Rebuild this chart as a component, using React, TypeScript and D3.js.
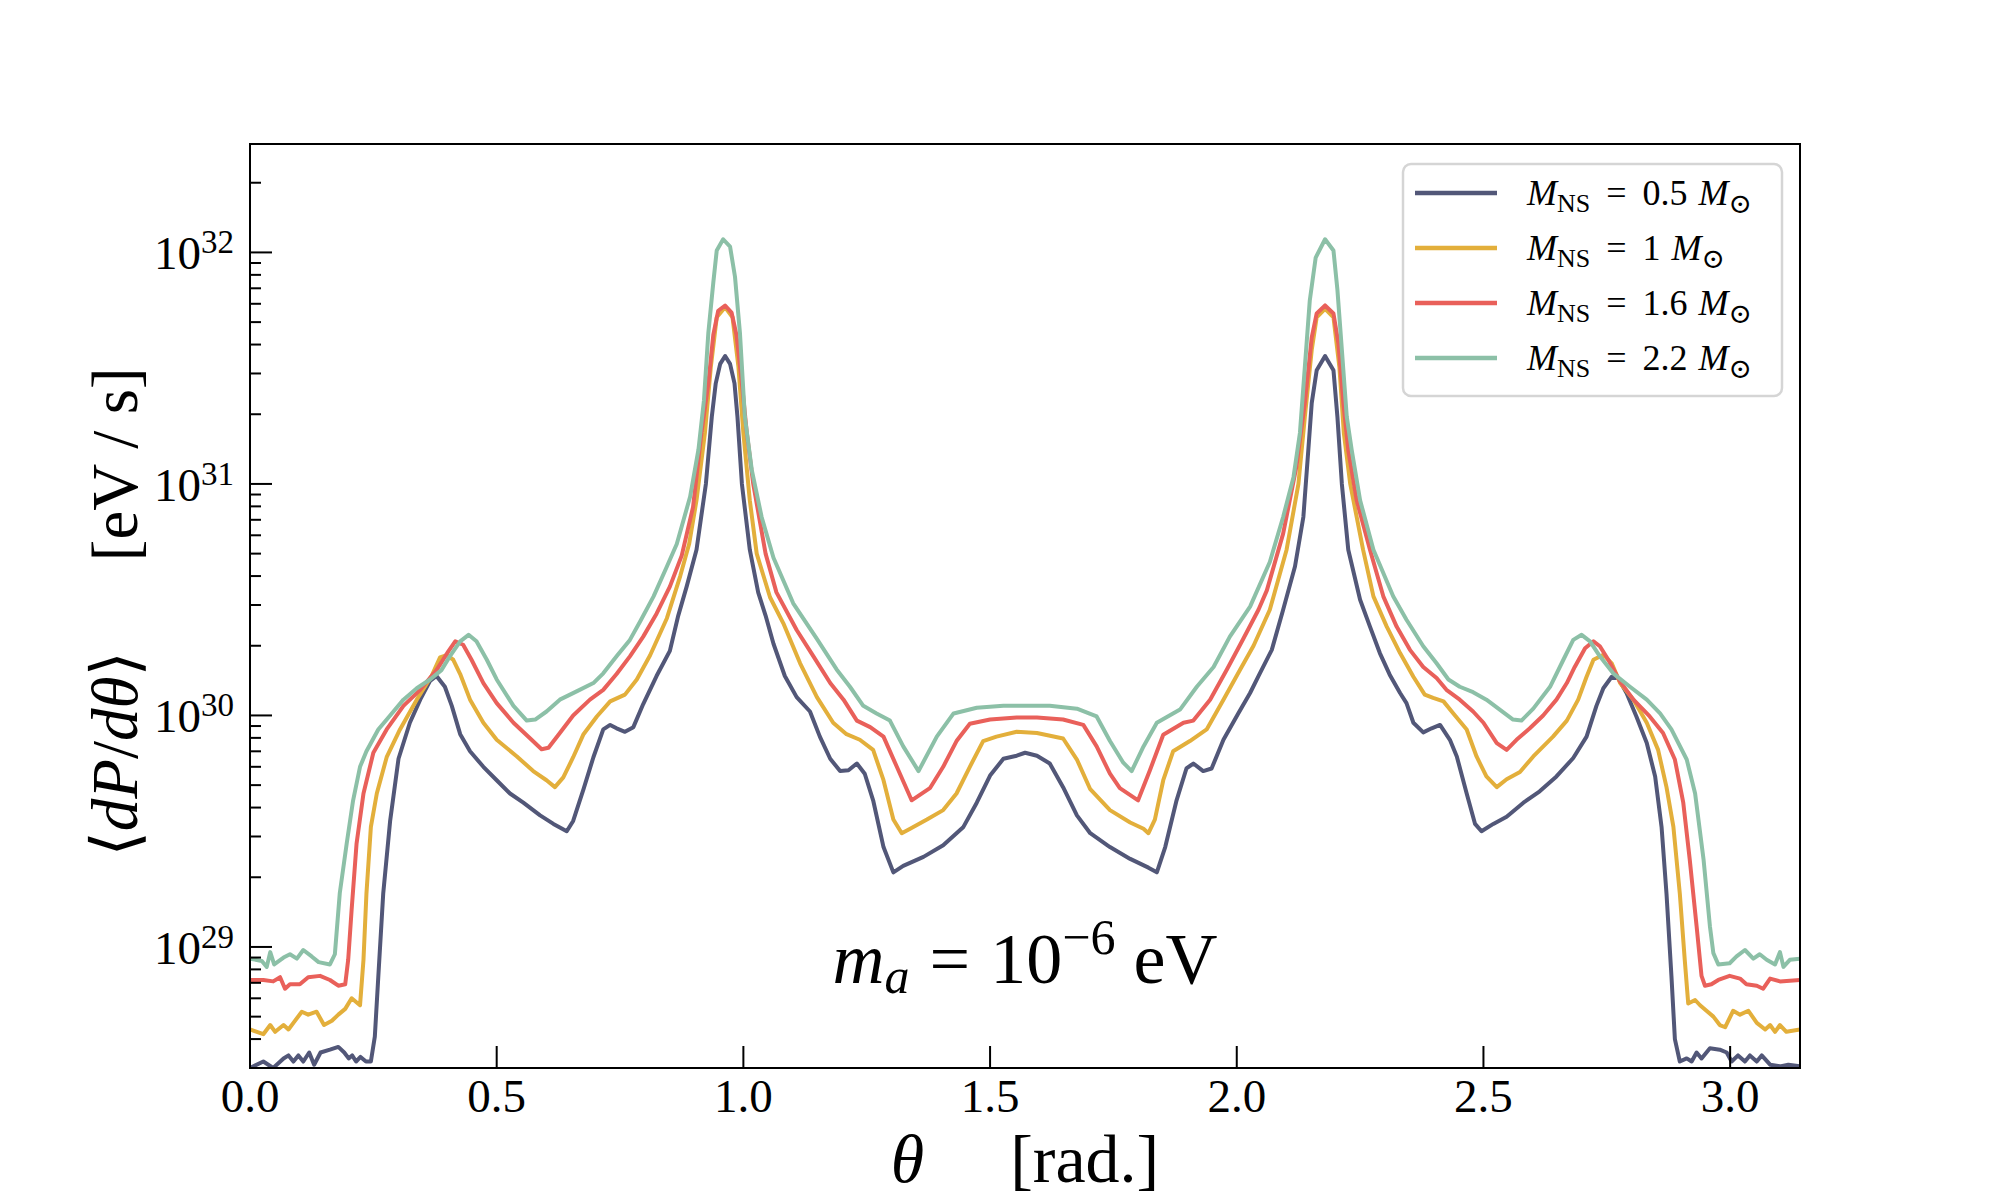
import * as d3 from "d3";
import React, { useEffect, useRef } from "react";

type Pt = [number, number]; // [theta in rad, <dP/dtheta> in eV/s]

const massLabels = ["0.5", "1", "1.6", "2.2"];
const lineColors = ["#525778", "#e3af3b", "#e9605a", "#8cc0a7"];

const powerM05: Pt[] = [
  [0, 3.0e28], [0.027, 3.2e28], [0.047, 3.0e28], [0.068, 3.3e28], [0.078, 3.4e28], [0.088, 3.2e28],
  [0.098, 3.4e28], [0.108, 3.2e28], [0.12, 3.5e28], [0.13, 3.1e28], [0.143, 3.5e28], [0.162, 3.6e28],
  [0.179, 3.7e28], [0.191, 3.5e28], [0.2, 3.3e28], [0.207, 3.4e28], [0.215, 3.2e28], [0.224, 3.35e28],
  [0.235, 3.2e28], [0.245, 3.2e28], [0.253, 4.1e28], [0.26, 7.4e28], [0.27, 1.7e29], [0.284, 3.5e29],
  [0.301, 6.5e29], [0.324, 9.3e29], [0.345, 1.17e30], [0.365, 1.41e30], [0.378, 1.48e30], [0.395, 1.33e30],
  [0.409, 1.1e30], [0.426, 8.3e29], [0.446, 7.0e29], [0.473, 6.0e29], [0.5, 5.25e29], [0.527, 4.6e29],
  [0.554, 4.2e29], [0.588, 3.7e29], [0.615, 3.4e29], [0.642, 3.16e29], [0.655, 3.5e29], [0.676, 4.8e29],
  [0.696, 6.6e29], [0.716, 8.7e29], [0.73, 9.1e29], [0.743, 8.8e29], [0.76, 8.5e29], [0.777, 8.9e29],
  [0.797, 1.12e30], [0.824, 1.48e30], [0.851, 1.9e30], [0.868, 2.7e30], [0.885, 3.6e30], [0.905, 5.2e30],
  [0.924, 1.0e31], [0.936, 1.95e31], [0.944, 2.72e31], [0.953, 3.3e31], [0.963, 3.57e31], [0.973, 3.3e31],
  [0.982, 2.72e31], [0.988, 1.95e31], [0.997, 1.0e31], [1.013, 5.2e30], [1.03, 3.4e30], [1.045, 2.7e30],
  [1.061, 2.04e30], [1.084, 1.48e30], [1.108, 1.2e30], [1.135, 1.04e30], [1.155, 8.1e29], [1.176, 6.5e29],
  [1.196, 5.75e29], [1.213, 5.8e29], [1.23, 6.2e29], [1.246, 5.6e29], [1.263, 4.3e29], [1.284, 2.7e29],
  [1.304, 2.1e29], [1.324, 2.24e29], [1.365, 2.45e29], [1.405, 2.75e29], [1.446, 3.3e29], [1.473, 4.2e29],
  [1.5, 5.5e29], [1.527, 6.5e29], [1.554, 6.7e29], [1.571, 6.9e29], [1.595, 6.7e29], [1.621, 6.2e29],
  [1.648, 4.9e29], [1.676, 3.7e29], [1.703, 3.1e29], [1.743, 2.7e29], [1.784, 2.4e29], [1.821, 2.2e29],
  [1.838, 2.1e29], [1.855, 2.7e29], [1.878, 4.3e29], [1.898, 5.9e29], [1.912, 6.2e29], [1.932, 5.75e29],
  [1.949, 5.9e29], [1.973, 7.85e29], [2.003, 1.02e30], [2.027, 1.25e30], [2.044, 1.48e30], [2.071, 1.92e30],
  [2.094, 2.86e30], [2.118, 4.4e30], [2.135, 7.2e30], [2.145, 1.4e31], [2.152, 2.24e31], [2.162, 3.1e31],
  [2.179, 3.57e31], [2.196, 3.1e31], [2.204, 1.95e31], [2.213, 1.0e31], [2.226, 5.2e30], [2.25, 3.16e30],
  [2.27, 2.42e30], [2.29, 1.86e30], [2.31, 1.5e30], [2.331, 1.25e30], [2.344, 1.13e30], [2.358, 9.3e29],
  [2.378, 8.45e29], [2.395, 8.8e29], [2.412, 9.1e29], [2.432, 7.85e29], [2.446, 6.65e29], [2.466, 4.6e29],
  [2.483, 3.4e29], [2.496, 3.16e29], [2.52, 3.4e29], [2.547, 3.65e29], [2.581, 4.2e29], [2.614, 4.7e29],
  [2.648, 5.45e29], [2.682, 6.55e29], [2.709, 8.1e29], [2.729, 1.1e30], [2.743, 1.31e30], [2.76, 1.47e30],
  [2.773, 1.45e30], [2.79, 1.25e30], [2.81, 9.9e29], [2.831, 7.6e29], [2.848, 5.45e29], [2.861, 3.3e29],
  [2.871, 1.7e29], [2.881, 7.5e28], [2.888, 4.0e28], [2.898, 3.2e28], [2.912, 3.3e28], [2.922, 3.2e28],
  [2.932, 3.5e28], [2.942, 3.3e28], [2.959, 3.65e28], [2.979, 3.6e28], [2.993, 3.5e28], [3.003, 3.2e28],
  [3.016, 3.4e28], [3.03, 3.2e28], [3.04, 3.4e28], [3.054, 3.2e28], [3.064, 3.4e28], [3.081, 3.1e28],
  [3.101, 3.05e28], [3.118, 3.1e28], [3.1416, 3.05e28],
];

const powerM1: Pt[] = [
  [0, 4.4e28], [0.027, 4.2e28], [0.041, 4.6e28], [0.051, 4.3e28], [0.068, 4.6e28], [0.078, 4.4e28],
  [0.088, 4.7e28], [0.105, 5.25e28], [0.118, 5.1e28], [0.135, 5.25e28], [0.15, 4.6e28], [0.166, 4.8e28],
  [0.179, 5.1e28], [0.193, 5.4e28], [0.206, 6.0e28], [0.223, 5.6e28], [0.23, 8.8e28], [0.236, 1.7e29],
  [0.245, 3.3e29], [0.257, 4.6e29], [0.277, 6.6e29], [0.304, 8.7e29], [0.338, 1.17e30], [0.368, 1.48e30],
  [0.385, 1.78e30], [0.399, 1.82e30], [0.412, 1.74e30], [0.426, 1.51e30], [0.446, 1.17e30], [0.473, 9.3e29],
  [0.5, 7.85e29], [0.541, 6.65e29], [0.574, 5.75e29], [0.601, 5.25e29], [0.618, 4.9e29], [0.635, 5.4e29],
  [0.655, 6.6e29], [0.676, 8.3e29], [0.703, 9.9e29], [0.73, 1.15e30], [0.76, 1.23e30], [0.784, 1.43e30],
  [0.811, 1.82e30], [0.845, 2.63e30], [0.872, 4.0e30], [0.89, 5.5e30], [0.905, 8.5e30], [0.922, 1.66e31],
  [0.934, 3.2e31], [0.946, 5.25e31], [0.963, 5.8e31], [0.978, 5.25e31], [0.99, 3.2e31], [1.0, 1.66e31],
  [1.013, 8.5e30], [1.027, 5.0e30], [1.054, 3.24e30], [1.081, 2.5e30], [1.115, 1.68e30], [1.149, 1.2e30],
  [1.182, 9.3e29], [1.209, 8.3e29], [1.236, 7.85e29], [1.263, 7.1e29], [1.284, 5.25e29], [1.304, 3.55e29],
  [1.321, 3.1e29], [1.338, 3.24e29], [1.372, 3.55e29], [1.405, 3.9e29], [1.432, 4.6e29], [1.459, 6.0e29],
  [1.486, 7.75e29], [1.513, 8.1e29], [1.554, 8.5e29], [1.595, 8.4e29], [1.648, 7.95e29], [1.676, 6.45e29],
  [1.703, 4.8e29], [1.743, 3.9e29], [1.784, 3.45e29], [1.811, 3.24e29], [1.821, 3.1e29], [1.834, 3.55e29],
  [1.851, 5.25e29], [1.871, 7.0e29], [1.905, 7.75e29], [1.939, 8.7e29], [1.973, 1.17e30], [2.007, 1.58e30],
  [2.034, 2.0e30], [2.067, 2.86e30], [2.101, 5.2e30], [2.125, 1.0e31], [2.138, 1.95e31], [2.152, 3.8e31],
  [2.162, 5.25e31], [2.179, 5.7e31], [2.196, 5.25e31], [2.208, 3.2e31], [2.217, 1.66e31], [2.23, 1.0e31],
  [2.256, 5.2e30], [2.277, 3.27e30], [2.304, 2.42e30], [2.331, 1.86e30], [2.358, 1.47e30], [2.381, 1.23e30],
  [2.398, 1.19e30], [2.419, 1.15e30], [2.439, 1.02e30], [2.466, 8.7e29], [2.486, 6.65e29], [2.506, 5.45e29],
  [2.527, 4.9e29], [2.547, 5.3e29], [2.574, 5.7e29], [2.601, 6.65e29], [2.641, 8.1e29], [2.669, 9.5e29],
  [2.692, 1.17e30], [2.709, 1.47e30], [2.723, 1.74e30], [2.743, 1.83e30], [2.76, 1.68e30], [2.777, 1.38e30],
  [2.804, 1.17e30], [2.831, 9.3e29], [2.854, 7.1e29], [2.871, 4.9e29], [2.885, 3.3e29], [2.898, 1.7e29],
  [2.908, 8.8e28], [2.915, 5.7e28], [2.929, 5.9e28], [2.939, 5.6e28], [2.952, 5.3e28], [2.966, 5.0e28],
  [2.979, 4.6e28], [2.99, 4.5e28], [3.006, 5.3e28], [3.02, 5.1e28], [3.037, 5.3e28], [3.054, 4.7e28],
  [3.071, 4.4e28], [3.081, 4.6e28], [3.091, 4.3e28], [3.101, 4.6e28], [3.114, 4.3e28], [3.1416, 4.4e28],
];

const powerM16: Pt[] = [
  [0, 7.2e28], [0.027, 7.2e28], [0.047, 7.1e28], [0.061, 7.4e28], [0.071, 6.6e28], [0.081, 6.9e28],
  [0.101, 6.9e28], [0.118, 7.4e28], [0.142, 7.5e28], [0.162, 7.2e28], [0.179, 6.8e28], [0.193, 6.9e28],
  [0.199, 8.8e28], [0.206, 1.45e29], [0.216, 2.8e29], [0.23, 4.6e29], [0.25, 6.9e29], [0.277, 8.7e29],
  [0.311, 1.1e30], [0.345, 1.29e30], [0.378, 1.57e30], [0.402, 1.89e30], [0.416, 2.09e30], [0.432, 2.02e30],
  [0.449, 1.74e30], [0.473, 1.38e30], [0.5, 1.13e30], [0.534, 9.3e29], [0.568, 7.95e29], [0.591, 7.15e29],
  [0.605, 7.25e29], [0.628, 8.4e29], [0.655, 1.0e30], [0.689, 1.17e30], [0.716, 1.29e30], [0.743, 1.51e30],
  [0.77, 1.8e30], [0.797, 2.19e30], [0.824, 2.75e30], [0.851, 3.6e30], [0.875, 4.9e30], [0.898, 7.95e30],
  [0.915, 1.66e31], [0.929, 2.72e31], [0.939, 4.4e31], [0.949, 5.6e31], [0.963, 5.9e31], [0.976, 5.5e31],
  [0.986, 4.4e31], [0.997, 2.72e31], [1.007, 1.66e31], [1.02, 1.0e31], [1.045, 5.0e30], [1.067, 3.4e30],
  [1.108, 2.34e30], [1.142, 1.8e30], [1.176, 1.38e30], [1.203, 1.17e30], [1.23, 9.5e29], [1.257, 8.9e29],
  [1.284, 8.1e29], [1.311, 6.0e29], [1.341, 4.3e29], [1.378, 4.85e29], [1.405, 6.0e29], [1.432, 7.75e29],
  [1.459, 9.2e29], [1.5, 9.6e29], [1.554, 9.8e29], [1.595, 9.8e29], [1.648, 9.6e29], [1.689, 9.1e29],
  [1.716, 7.35e29], [1.743, 5.6e29], [1.763, 4.85e29], [1.8, 4.3e29], [1.824, 5.8e29], [1.851, 8.25e29],
  [1.892, 9.3e29], [1.912, 9.5e29], [1.946, 1.17e30], [1.98, 1.58e30], [2.013, 2.14e30], [2.044, 2.86e30],
  [2.061, 3.47e30], [2.094, 6.1e30], [2.121, 1.19e31], [2.138, 2.24e31], [2.152, 4.3e31], [2.162, 5.45e31],
  [2.179, 5.9e31], [2.196, 5.45e31], [2.206, 4.05e31], [2.216, 2.24e31], [2.226, 1.4e31], [2.243, 8.5e30],
  [2.27, 5.2e30], [2.297, 3.27e30], [2.324, 2.42e30], [2.351, 1.92e30], [2.378, 1.62e30], [2.405, 1.45e30],
  [2.425, 1.29e30], [2.452, 1.17e30], [2.479, 1.04e30], [2.5, 9.3e29], [2.527, 7.6e29], [2.547, 7.1e29],
  [2.567, 7.85e29], [2.594, 8.8e29], [2.621, 1.0e30], [2.648, 1.17e30], [2.669, 1.38e30], [2.685, 1.62e30],
  [2.706, 1.95e30], [2.723, 2.09e30], [2.736, 1.99e30], [2.753, 1.74e30], [2.777, 1.4e30], [2.804, 1.17e30],
  [2.837, 9.9e29], [2.864, 8.4e29], [2.888, 6.45e29], [2.905, 4.2e29], [2.918, 2.4e29], [2.932, 1.23e29],
  [2.942, 7.5e28], [2.949, 6.8e28], [2.962, 6.9e28], [2.976, 7.2e28], [2.999, 7.5e28], [3.02, 7.3e28],
  [3.033, 6.9e28], [3.054, 6.8e28], [3.067, 6.6e28], [3.081, 7.3e28], [3.101, 7.1e28], [3.1416, 7.2e28],
];

const powerM22: Pt[] = [
  [0, 8.9e28], [0.024, 8.7e28], [0.034, 8.2e28], [0.041, 9.5e28], [0.049, 8.4e28], [0.068, 9.0e28],
  [0.081, 9.3e28], [0.095, 8.9e28], [0.108, 9.7e28], [0.125, 9.1e28], [0.139, 8.6e28], [0.162, 8.4e28],
  [0.172, 9.3e28], [0.182, 1.71e29], [0.196, 2.8e29], [0.209, 4.3e29], [0.223, 6.0e29], [0.236, 7.0e29],
  [0.26, 8.7e29], [0.284, 1.0e30], [0.311, 1.17e30], [0.338, 1.31e30], [0.365, 1.43e30], [0.388, 1.57e30],
  [0.405, 1.8e30], [0.426, 2.09e30], [0.443, 2.23e30], [0.459, 2.09e30], [0.48, 1.74e30], [0.5, 1.43e30],
  [0.534, 1.1e30], [0.561, 9.5e29], [0.578, 9.6e29], [0.601, 1.04e30], [0.628, 1.17e30], [0.662, 1.27e30],
  [0.696, 1.38e30], [0.716, 1.52e30], [0.743, 1.8e30], [0.77, 2.12e30], [0.791, 2.55e30], [0.818, 3.27e30],
  [0.845, 4.4e30], [0.865, 5.5e30], [0.892, 8.8e30], [0.909, 1.41e31], [0.92, 2.29e31], [0.929, 4.5e31],
  [0.939, 7.4e31], [0.946, 1.02e32], [0.959, 1.14e32], [0.973, 1.06e32], [0.983, 7.85e31], [0.993, 4.5e31],
  [1.003, 1.95e31], [1.017, 1.15e31], [1.037, 7.2e30], [1.061, 4.8e30], [1.101, 3.05e30], [1.149, 2.14e30],
  [1.189, 1.58e30], [1.216, 1.33e30], [1.243, 1.1e30], [1.27, 1.02e30], [1.297, 9.5e29], [1.324, 7.35e29],
  [1.355, 5.75e29], [1.392, 8.1e29], [1.426, 1.02e30], [1.473, 1.08e30], [1.527, 1.1e30], [1.571, 1.1e30],
  [1.621, 1.1e30], [1.676, 1.07e30], [1.716, 9.9e29], [1.743, 7.75e29], [1.77, 6.25e29], [1.787, 5.75e29],
  [1.811, 7.35e29], [1.838, 9.3e29], [1.885, 1.06e30], [1.919, 1.33e30], [1.953, 1.62e30], [1.986, 2.19e30],
  [2.027, 2.95e30], [2.067, 4.6e30], [2.094, 7.2e30], [2.115, 1.07e31], [2.128, 1.66e31], [2.138, 3.2e31],
  [2.148, 6.2e31], [2.16, 9.5e31], [2.179, 1.14e32], [2.196, 1.02e32], [2.204, 6.9e31], [2.213, 3.8e31],
  [2.223, 1.95e31], [2.233, 1.4e31], [2.25, 8.5e30], [2.277, 5.2e30], [2.317, 3.27e30], [2.344, 2.59e30],
  [2.378, 1.99e30], [2.405, 1.68e30], [2.429, 1.43e30], [2.452, 1.33e30], [2.479, 1.26e30], [2.506, 1.17e30],
  [2.533, 1.06e30], [2.56, 9.6e29], [2.577, 9.5e29], [2.601, 1.07e30], [2.635, 1.33e30], [2.662, 1.74e30],
  [2.682, 2.12e30], [2.699, 2.23e30], [2.716, 2.09e30], [2.736, 1.8e30], [2.763, 1.52e30], [2.797, 1.33e30],
  [2.831, 1.17e30], [2.858, 1.02e30], [2.881, 8.7e29], [2.912, 6.45e29], [2.929, 4.6e29], [2.946, 2.4e29],
  [2.959, 1.23e29], [2.966, 9.4e28], [2.976, 8.4e28], [2.999, 8.5e28], [3.013, 9.1e28], [3.03, 9.7e28],
  [3.047, 8.9e28], [3.06, 9.3e28], [3.074, 8.8e28], [3.091, 8.4e28], [3.101, 9.5e28], [3.108, 8.2e28],
  [3.121, 8.8e28], [3.1416, 8.9e28],
];

const allSeries = [powerM05, powerM1, powerM16, powerM22];
const xTicks = [0, 0.5, 1, 1.5, 2, 2.5, 3];
const yDomain: [number, number] = [3.0e28, 2.94e32];

const width = 2000;
const height = 1200;
const marginTop = 144;
const marginBottom = 132;
const marginLeft = 250;
const marginRight = 200;

const serif = "'Liberation Serif', 'DejaVu Serif', serif";

type Part = { t: string; italic?: boolean; size?: number; dy?: number; dx?: number };

function addParts(text: d3.Selection<SVGTextElement, unknown, null, undefined>, parts: Part[]) {
  parts.forEach((p) => {
    const s = text.append("tspan").text(p.t);
    if (p.italic) s.attr("font-style", "italic");
    if (p.size) s.attr("font-size", p.size);
    if (p.dy) s.attr("dy", p.dy);
    if (p.dx) s.attr("dx", p.dx);
  });
}

function Chart() {
  const svgRef = useRef<SVGSVGElement>(null);

  useEffect(() => {
    if (!svgRef.current) return;
    const svg = d3.select(svgRef.current);
    svg.selectAll("*").remove();

    const x = d3.scaleLinear([0, Math.PI], [marginLeft, width - marginRight]);
    const y = d3.scaleLog(yDomain, [height - marginBottom, marginTop]);

    svg
      .append("defs")
      .append("clipPath")
      .attr("id", "plot-clip")
      .append("rect")
      .attr("x", marginLeft)
      .attr("y", marginTop)
      .attr("width", width - marginLeft - marginRight)
      .attr("height", height - marginTop - marginBottom);

    const line = d3
      .line<Pt>()
      .x((d) => x(d[0]))
      .y((d) => y(d[1]));

    svg
      .append("g")
      .attr("clip-path", "url(#plot-clip)")
      .selectAll("path")
      .data(allSeries)
      .join("path")
      .attr("d", (d) => line(d))
      .attr("fill", "none")
      .attr("stroke", (_, i) => lineColors[i])
      .attr("stroke-width", 4)
      .attr("stroke-linejoin", "round");

    // ticks, pointing inwards
    const yTicks = y.ticks().filter((v) => v > yDomain[0] * 1.001 && v < yDomain[1]);
    const isMajor = (v: number) => Math.abs(Math.log10(v) - Math.round(Math.log10(v))) < 1e-6;

    svg
      .append("g")
      .selectAll("line")
      .data(yTicks)
      .join("line")
      .attr("x1", marginLeft)
      .attr("x2", (v) => marginLeft + (isMajor(v) ? 22 : 11))
      .attr("y1", (v) => y(v))
      .attr("y2", (v) => y(v))
      .attr("stroke", "black")
      .attr("stroke-width", 2);

    svg
      .append("g")
      .selectAll("line")
      .data(xTicks)
      .join("line")
      .attr("x1", (v) => x(v))
      .attr("x2", (v) => x(v))
      .attr("y1", height - marginBottom)
      .attr("y2", height - marginBottom - 22)
      .attr("stroke", "black")
      .attr("stroke-width", 2);

    svg
      .append("g")
      .attr("font-family", serif)
      .attr("font-size", 47)
      .attr("text-anchor", "middle")
      .selectAll("text")
      .data(xTicks)
      .join("text")
      .attr("x", (v) => x(v))
      .attr("y", 1112)
      .text((v) => d3.format(".1f")(v));

    const yLabels = svg
      .append("g")
      .attr("font-family", serif)
      .attr("font-size", 47)
      .attr("text-anchor", "end")
      .selectAll("text")
      .data(yTicks.filter(isMajor))
      .join("text")
      .attr("x", 234)
      .attr("y", (v) => y(v) + 17);
    yLabels.append("tspan").text("10");
    yLabels
      .append("tspan")
      .attr("font-size", 33)
      .attr("dy", -16)
      .text((v) => String(Math.round(Math.log10(v))));

    // frame
    svg
      .append("rect")
      .attr("x", marginLeft)
      .attr("y", marginTop)
      .attr("width", width - marginLeft - marginRight)
      .attr("height", height - marginTop - marginBottom)
      .attr("fill", "none")
      .attr("stroke", "black")
      .attr("stroke-width", 2);

    // axis labels
    const xLabel = svg
      .append("text")
      .attr("font-family", serif)
      .attr("font-size", 68)
      .attr("text-anchor", "middle")
      .attr("x", (marginLeft + width - marginRight) / 2)
      .attr("y", 1182);
    addParts(xLabel, [{ t: "θ", italic: true }, { t: "[rad.]", dx: 86 }]);

    const yLabel = svg
      .append("text")
      .attr("font-family", serif)
      .attr("font-size", 65)
      .attr("text-anchor", "middle")
      .attr("transform", `translate(137,${(marginTop + height - marginBottom) / 2 + 6}) rotate(-90)`);
    addParts(yLabel, [
      { t: "⟨" },
      { t: "dP", italic: true },
      { t: "/" },
      { t: "dθ", italic: true },
      { t: "⟩" },
      { t: "[eV / s]", dx: 90 },
    ]);

    // annotation
    const note = svg
      .append("text")
      .attr("font-family", serif)
      .attr("font-size", 72)
      .attr("text-anchor", "middle")
      .attr("x", (marginLeft + width - marginRight) / 2)
      .attr("y", 983);
    addParts(note, [
      { t: "m", italic: true },
      { t: "a", italic: true, size: 50, dy: 10 },
      { t: "=", dy: -10, dx: 20 },
      { t: "10", dx: 20 },
      { t: "−6", size: 50, dy: -29 },
      { t: "eV", dy: 29, dx: 18 },
    ]);

    // legend
    const legend = svg.append("g");
    legend
      .append("rect")
      .attr("x", 1403)
      .attr("y", 164)
      .attr("width", 379)
      .attr("height", 232)
      .attr("rx", 8)
      .attr("fill", "white")
      .attr("fill-opacity", 0.8)
      .attr("stroke", "#d5d5d5")
      .attr("stroke-width", 2.5);

    const rows = legend
      .selectAll("g")
      .data(massLabels)
      .join("g")
      .attr("transform", (_, i) => `translate(0,${193 + i * 55})`);
    rows
      .append("line")
      .attr("x1", 1415)
      .attr("x2", 1497)
      .attr("stroke", (_, i) => lineColors[i])
      .attr("stroke-width", 4.5);
    rows.each(function (m) {
      const t = d3
        .select(this)
        .append("text")
        .attr("font-family", serif)
        .attr("font-size", 36)
        .attr("x", 1527)
        .attr("y", 12) as d3.Selection<SVGTextElement, unknown, null, undefined>;
      addParts(t, [
        { t: "M", italic: true },
        { t: "NS", size: 26, dy: 7 },
        { t: "=", dy: -7, dx: 16 },
        { t: m, dx: 16 },
        { t: "M", italic: true, dx: 11 },
        { t: "⊙", size: 28, dy: 8 },
      ]);
    });

    return () => {
      d3.select(svgRef.current).selectAll("*").remove();
    };
  }, [svgRef]);

  return (
    <svg
      ref={svgRef}
      width={width}
      height={height}
      viewBox={`0 0 ${width} ${height}`}
      style={{ position: "absolute", left: 0, top: 0, background: "white" }}
    />
  );
}

export default function App() {
  return <Chart />;
}
